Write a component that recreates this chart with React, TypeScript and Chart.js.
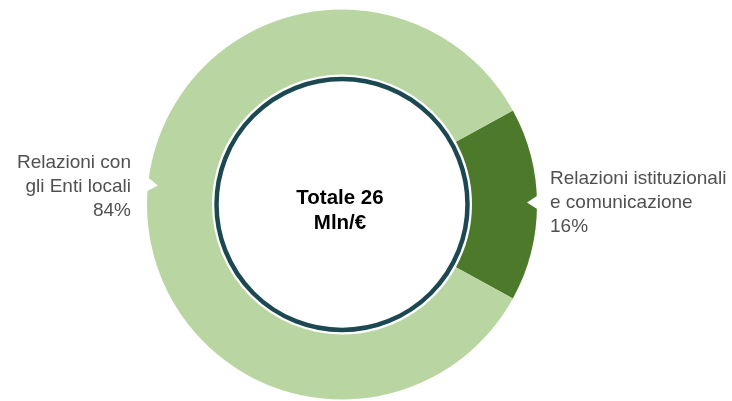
import React, { useEffect, useRef } from "react";
import { Chart, registerables } from "chart.js";

Chart.register(...registerables);

const categories = ["Relazioni istituzionali e comunicazione", "Relazioni con gli Enti locali"];
const values = [16, 84];
const percentLabels = ["16%", "84%"];
const rightLabelLines = ["Relazioni istituzionali", "e comunicazione", percentLabels[0]];
const leftLabelLines = ["Relazioni con", "gli Enti locali", percentLabels[1]];
const centerLines = ["Totale 26", "Mln/€"];
const sliceColors = ["#4d7a2a", "#b9d6a2"];

const TEAL = "#1c4852";
const LABEL_FONT = '19px "Liberation Sans", Arial, sans-serif';
const CENTER_FONT = 'bold 20.5px "Liberation Sans", Arial, sans-serif';

const overlayPlugin = {
  id: "overlay",
  afterDatasetsDraw(chart: any) {
    const meta = chart.getDatasetMeta(0);
    const arc = meta.data[0];
    if (!arc) return;
    const cx = arc.x;
    const cy = arc.y;
    const R = arc.outerRadius;
    const ctx = chart.ctx;
    ctx.save();

    // inner circle
    ctx.beginPath();
    ctx.arc(cx, cy, 125.5, 0, Math.PI * 2);
    ctx.fillStyle = "#ffffff";
    ctx.fill();
    ctx.lineWidth = 4.5;
    ctx.strokeStyle = TEAL;
    ctx.stroke();

    // notches
    const notch = (dy: number, side: number) => {
      const ang = Math.atan2(dy, side * Math.sqrt(R * R - dy * dy));
      const tipR = R - 10;
      const baseR = R + 3;
      const half = 0.042;
      ctx.beginPath();
      ctx.moveTo(cx + tipR * Math.cos(ang), cy + tipR * Math.sin(ang));
      ctx.lineTo(cx + baseR * Math.cos(ang - half), cy + baseR * Math.sin(ang - half));
      ctx.lineTo(cx + baseR * Math.cos(ang + half), cy + baseR * Math.sin(ang + half));
      ctx.closePath();
      ctx.fillStyle = "#ffffff";
      ctx.fill();
    };
    notch(-20, -1);
    notch(-2, 1);

    // labels
    ctx.font = LABEL_FONT;
    ctx.fillStyle = "#505050";
    ctx.textBaseline = "middle";
    ctx.textAlign = "right";
    leftLabelLines.forEach((t, i) => ctx.fillText(t, cx - 211, cy - 42 + i * 24));
    ctx.textAlign = "left";
    rightLabelLines.forEach((t, i) => ctx.fillText(t, cx + 208, cy - 26 + i * 24));

    // center text
    ctx.font = CENTER_FONT;
    ctx.fillStyle = "#000000";
    ctx.textAlign = "center";
    ctx.fillText(centerLines[0], cx - 2, cy - 6);
    ctx.fillText(centerLines[1], cx - 2, cy + 19);
    ctx.restore();
  },
};

export default function App() {
  const ref = useRef<HTMLCanvasElement | null>(null);
  useEffect(() => {
    if (!ref.current) return;
    const chart = new Chart(ref.current, {
      type: "doughnut",
      data: {
        labels: categories,
        datasets: [
          {
            data: values,
            backgroundColor: sliceColors,
            borderWidth: 0,
          },
        ],
      },
      options: {
        animation: false,
        responsive: true,
        maintainAspectRatio: false,
        rotation: 61.2,
        cutout: 130,
        layout: { padding: { left: 147, right: 195, top: 9, bottom: 1 } },
        plugins: {
          legend: { display: false },
          tooltip: { enabled: false },
        },
      },
      plugins: [overlayPlugin],
    });
    return () => chart.destroy();
  }, []);
  return (
    <div style={{ position: "fixed", left: 0, top: 0, width: 732, height: 401, background: "#fff" }}>
      <canvas ref={ref} />
    </div>
  );
}
